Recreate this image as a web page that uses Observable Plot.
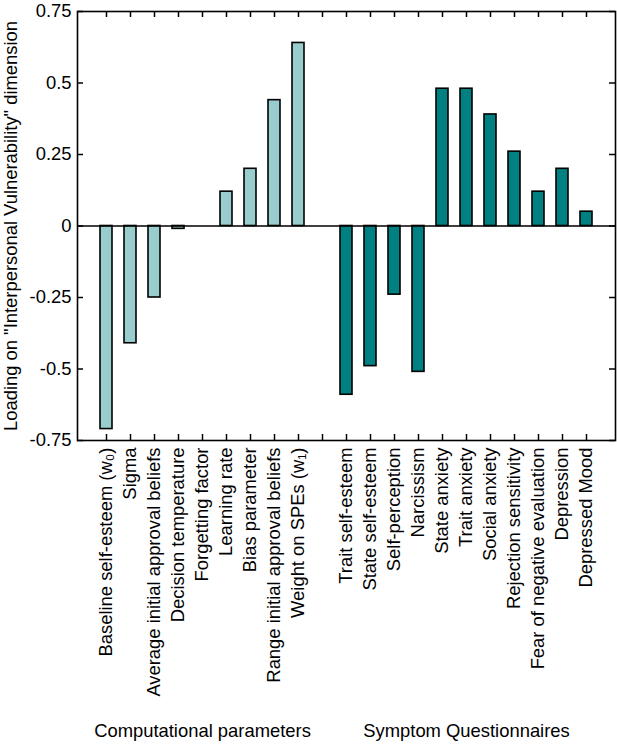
<!DOCTYPE html>
<html><head><meta charset="utf-8">
<script src="https://cdn.jsdelivr.net/npm/d3@7"></script>
<script src="https://cdn.jsdelivr.net/npm/@observablehq/plot@0.6"></script>
<style>body{margin:0;background:#fff} svg{display:block}</style>
</head><body><div id="chart"></div>
<script>
const compLabels = ["Baseline self-esteem (w\u2080)", "Sigma", "Average initial approval beliefs", "Decision temperature", "Forgetting factor", "Learning rate", "Bias parameter", "Range initial approval beliefs", "Weight on SPEs (w\u2081)"];
const compValues = [-0.71, -0.41, -0.25, -0.01, 0, 0.12, 0.20, 0.44, 0.64];
const symLabels = ["Trait self-esteem", "State self-esteem", "Self-perception", "Narcissism", "State anxiety", "Trait anxiety", "Social anxiety", "Rejection sensitivity", "Fear of negative evaluation", "Depression", "Depressed Mood"];
const symValues = [-0.59, -0.49, -0.24, -0.51, 0.48, 0.48, 0.39, 0.26, 0.12, 0.20, 0.05];
const groupNames = ["Computational parameters", "Symptom Questionnaires"];
const groupColors = ["#99cccc", "#008080"];
const yTicks = [0.75, 0.5, 0.25, 0, -0.25, -0.5, -0.75];
const yLabel = 'Loading on "Interpersonal Vulnerability" dimension';
const gapKey = "__gap__";

const rows = [
  ...compLabels.map((name, i) => ({name, value: compValues[i], group: groupNames[0]})),
  ...symLabels.map((name, i) => ({name, value: symValues[i], group: groupNames[1]}))
];
const domain = [...compLabels, gapKey, ...symLabels];
const groupCenters = [
  {name: compLabels[Math.floor(compLabels.length / 2)], text: groupNames[0]},
  {name: symLabels[Math.floor(symLabels.length / 2)], text: groupNames[1]}
];

const W = 617, H = 750, mL = 77, mR = 2, mT = 11, mB = 310;
const fw = W - mL - mR, fh = H - mT - mB, tl = 6;
const font = "'Liberation Sans', Arial, Helvetica, sans-serif";
const fs = 18.4;

const chart = Plot.plot({
  width: W, height: H,
  marginLeft: mL, marginRight: mR, marginTop: mT, marginBottom: mB,
  style: {fontFamily: font, fontSize: fs + "px", color: "#000", background: "#fff"},
  x: {type: "band", domain, paddingInner: 0.48, paddingOuter: 0.74, align: 0.5, axis: null},
  y: {domain: [-0.75, 0.75], axis: null},
  color: {domain: groupNames, range: groupColors},
  marks: [
    Plot.barY(rows, {x: "name", y: "value", fill: "group", stroke: "#000", strokeWidth: 1.6}),
    Plot.ruleY([0], {stroke: "#000", strokeWidth: 1.6}),
    Plot.ruleX(domain, {x: d => d, stroke: "#000", strokeWidth: 1.5, insetTop: fh - tl}),
    Plot.ruleX(domain, {x: d => d, stroke: "#000", strokeWidth: 1.5, insetBottom: fh - tl}),
    Plot.ruleY(yTicks, {y: d => d, stroke: "#000", strokeWidth: 1.5, insetRight: fw - tl}),
    Plot.ruleY(yTicks, {y: d => d, stroke: "#000", strokeWidth: 1.5, insetLeft: fw - tl}),
    Plot.frame({stroke: "#000", strokeWidth: 1.6}),
    Plot.axisY({ticks: yTicks, tickSize: 0, tickPadding: 6, tickFormat: d => String(d), fontSize: fs, label: null}),
    Plot.axisX({tickRotate: -90, tickSize: 0, tickPadding: 7, fontSize: fs, label: null,
      tickFormat: d => d === gapKey ? "" : d}),
    Plot.text([yLabel], {text: d => d, frameAnchor: "left", textAnchor: "middle", dx: -66.5, rotate: -90, fontSize: fs}),
    Plot.text(groupCenters, {x: "name", text: "text", frameAnchor: "bottom", dy: 296, fontSize: fs})
  ]
});
document.getElementById("chart").append(chart);
</script>
</body></html>
